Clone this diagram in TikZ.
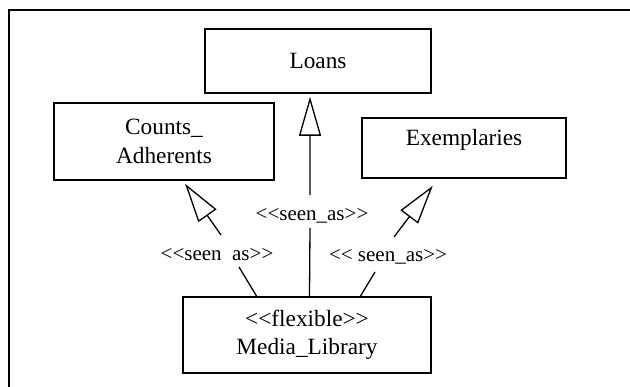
\documentclass[tikz,border=0pt]{standalone}
\usepackage{fontspec}
\setmainfont{Liberation Serif}[Ligatures=TeXOff]
\usetikzlibrary{arrows.meta,calc}
\begin{document}
\begin{tikzpicture}[x=1pt,y=-1pt,
  box/.style={draw, line width=1.6pt, inner sep=0pt, align=center,
    font=\fontsize{23.3}{28.5}\selectfont},
  stereo/.style={inner sep=0pt, font=\fontsize{21}{25}\selectfont},
  conn/.style={line width=1.3pt},
  gen/.style={conn, -{Triangle[open, length=39pt, width=22pt]}}]
\useasboundingbox (0,0) rectangle (630,387);
\clip (0,0) rectangle (630,387);
% outer frame (runs past the right and bottom edges)
\draw[line width=1.4pt] (9,10) rectangle (660,420);

% classes
\node[box, minimum width=226pt, minimum height=64pt] (loans) at (318,61) {Loans};
\node[box, minimum width=220pt, minimum height=77pt] (counts) at (164,141.5) {Counts\_\\Adherents};
\node[box, minimum width=204pt, minimum height=60pt, text height=10pt, text depth=14pt] (exempl) at (464,148) {Exemplaries};
\node[box, minimum width=248pt, minimum height=76pt] (media) at (307,335) {<<flexible>>\\Media\_Library};

% stereotype labels on the generalisations
\node[stereo] (lblL) at (217,255) {<<seen\hspace{0.5em}as>>};
\node[stereo] (lblM) at (312,216) {<<seen\_as>>};
\node[stereo] (lblR) at (388,257) {<< seen\_as>>};

% break points around the labels
\coordinate (mStart) at ($(media.north west)!0.51!(media.north east)$);
\coordinate (mLow) at (310,228);
\coordinate (mUp) at (310,195);
\coordinate (mTip) at ($(loans.south west)!0.465!(loans.south east)+(0,3)$);

\coordinate (lStart) at ($(media.north west)!0.298!(media.north east)$);
\coordinate (lLow) at (239,267);
\coordinate (lUp) at (221,235);
\coordinate (lTip) at ($(counts.south west)!0.595!(counts.south east)+(0,3)$);

\coordinate (rStart) at ($(media.north west)!0.714!(media.north east)$);
\coordinate (rLow) at (375,272);
\coordinate (rUp) at (394,237);
\coordinate (rTip) at ($(exempl.south west)!0.348!(exempl.south east)+(0,7)$);

% generalisation arrows
\draw[conn] (mStart) -- (mLow);
\draw[gen] (mUp) -- (mTip);
\draw[conn] (lStart) -- (lLow);
\draw[gen] (lUp) -- (lTip);
\draw[conn] (rStart) -- (rLow);
\draw[gen] (rUp) -- (rTip);
\end{tikzpicture}
\end{document}
